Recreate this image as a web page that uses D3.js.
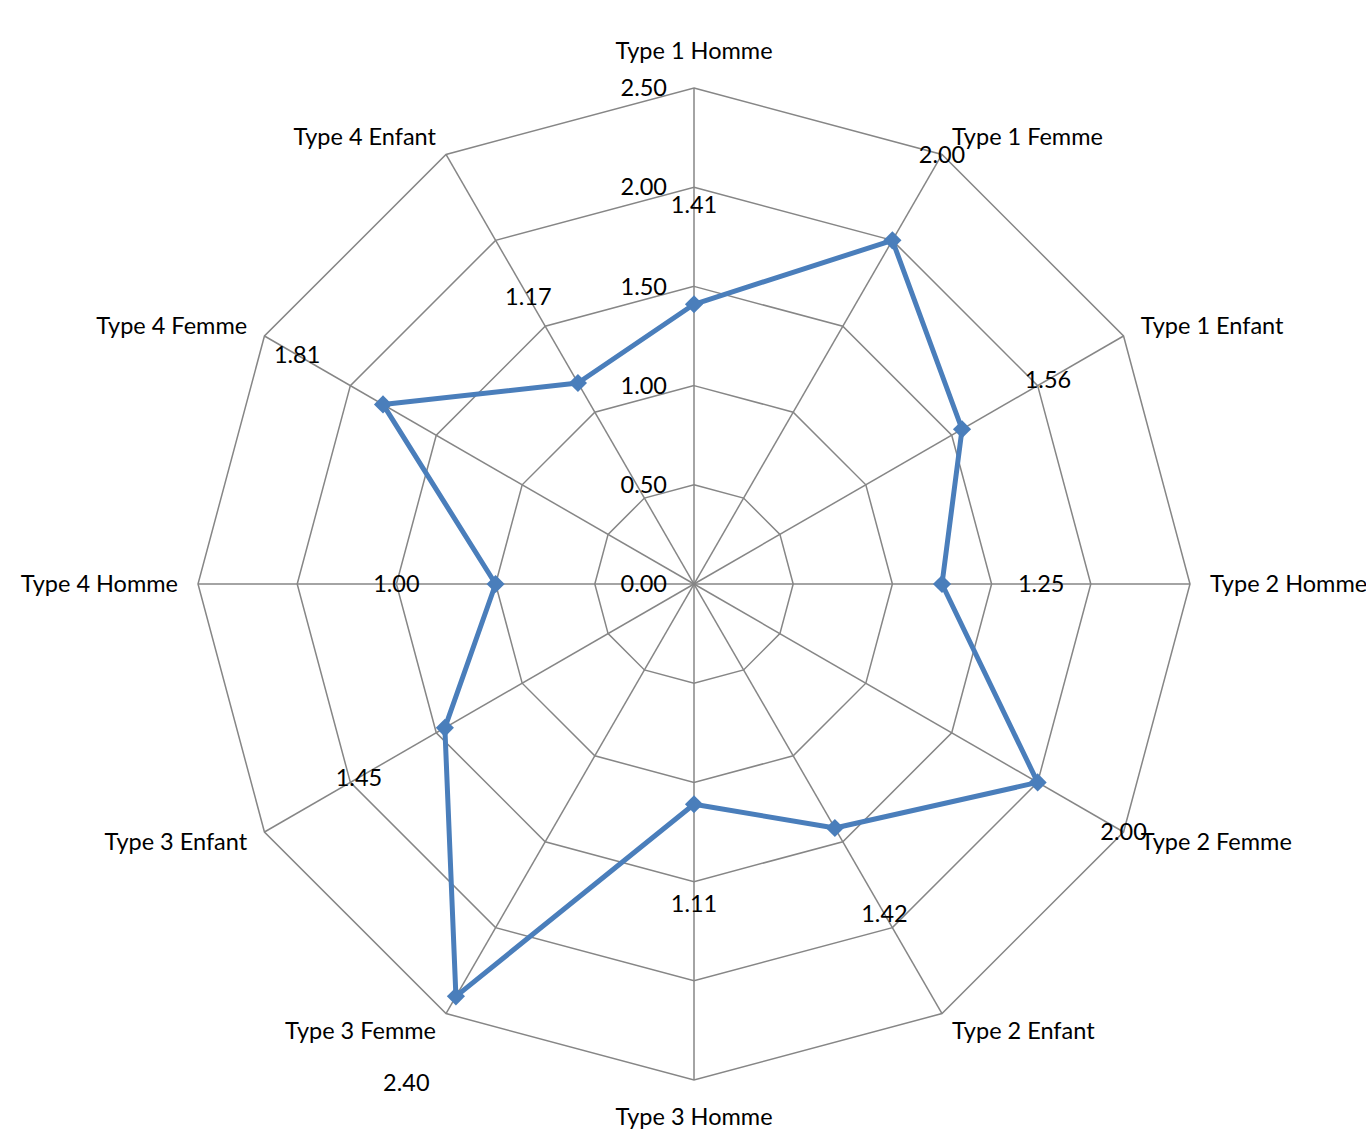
<!DOCTYPE html>
<meta charset="utf-8">
<script src="https://d3js.org/d3.v7.min.js"></script>
<style>
body { margin: 0; background: #fff; }
text { font-family: Lato, "Open Sans", sans-serif; font-size: 23.5px; fill: #000; }
</style>
<div id="chart"></div>
<script>

// categories around the radar, clockwise from the top
var categories = ["Type 1 Homme", "Type 1 Femme", "Type 1 Enfant",
  "Type 2 Homme", "Type 2 Femme", "Type 2 Enfant",
  "Type 3 Homme", "Type 3 Femme", "Type 3 Enfant",
  "Type 4 Homme", "Type 4 Femme", "Type 4 Enfant"];
var values = [1.41, 2.00, 1.56, 1.25, 2.00, 1.42, 1.11, 2.40, 1.45, 1.00, 1.81, 1.17];
var ticks = [0, 0.5, 1, 1.5, 2, 2.5];

var width = 1366, height = 1130;
var cx = 694, cy = 584, radius = 496;

var svg = d3.select("#chart").append("svg")
  .attr("width", width)
  .attr("height", height);

var r = d3.scaleLinear().domain([0, 2.5]).range([0, radius]);
var angle = d3.scalePoint().domain(categories.concat(["_end"])).range([0, 2 * Math.PI]);

function pt(cat, v) {
  var a = angle(cat);
  return [cx + r(v) * Math.sin(a), cy - r(v) * Math.cos(a)];
}

var g = svg.append("g");

// rings
ticks.slice(1).forEach(function(t) {
  g.append("polygon")
    .attr("points", categories.map(function(c) { return pt(c, t).join(","); }).join(" "))
    .attr("fill", "none")
    .attr("stroke", "#868686")
    .attr("stroke-width", 1.5);
});

// spokes
g.selectAll("line.spoke")
  .data(categories)
  .enter().append("line")
    .attr("x1", cx).attr("y1", cy)
    .attr("x2", function(d) { return pt(d, 2.5)[0]; })
    .attr("y2", function(d) { return pt(d, 2.5)[1]; })
    .attr("stroke", "#868686")
    .attr("stroke-width", 1.5);

// tick labels on the first axis
g.selectAll("text.tick")
  .data(ticks)
  .enter().append("text")
    .attr("x", cx - 27)
    .attr("y", function(d) { return cy - r(d); })
    .attr("dy", "0.35em")
    .attr("text-anchor", "end")
    .text(function(d) { return d.toFixed(2); });

// category labels
g.selectAll("text.cat")
  .data(categories)
  .enter().append("text")
    .each(function(d) {
      var a = angle(d), s = Math.sin(a), c = Math.cos(a);
      var p = pt(d, 2.5);
      var off = Math.abs(s) < 0.01 ? 37 : 20;
      d3.select(this)
        .attr("x", p[0] + off * s)
        .attr("y", p[1] - off * c)
        .attr("dy", "0.35em")
        .attr("text-anchor", Math.abs(s) < 0.01 ? "middle" : (s > 0 ? "start" : "end"))
        .text(d);
    });

// series line
var line = d3.line().curve(d3.curveLinearClosed);
g.append("path")
  .attr("d", line(categories.map(function(c, i) { return pt(c, values[i]); })))
  .attr("fill", "none")
  .attr("stroke", "#4a7ebb")
  .attr("stroke-width", 5)
  .attr("stroke-linejoin", "round");

// diamond markers
g.selectAll("path.marker")
  .data(categories)
  .enter().append("path")
    .attr("d", d3.symbol().type(d3.symbolDiamond2).size(210))
    .attr("transform", function(d, i) { return "translate(" + pt(d, values[i]) + ")"; })
    .attr("fill", "#4a7ebb");

// data labels, Excel puts them further out along the spoke
g.selectAll("text.val")
  .data(categories)
  .enter().append("text")
    .attr("x", function(d, i) { return pt(d, values[i] + 0.5)[0]; })
    .attr("y", function(d, i) { return pt(d, values[i] + 0.5)[1]; })
    .attr("dy", "0.35em")
    .attr("text-anchor", "middle")
    .text(function(d, i) { return values[i].toFixed(2); });

</script>
